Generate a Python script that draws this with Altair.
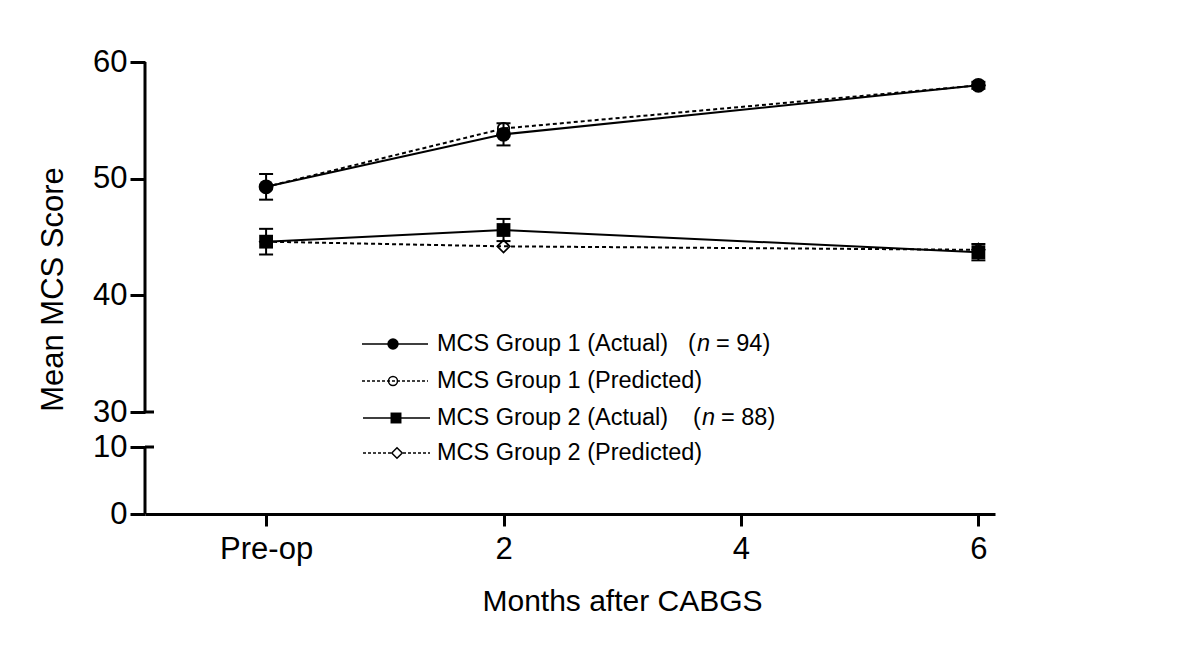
import altair as alt
import pandas as pd

# ---------------- data ----------------
months = [0, 2, 6]
tick_months = [0, 2, 4, 6]
tick_labels = ["Pre-op", "2", "4", "6"]

g1_actual = [49.3, 53.8, 58.0]
g1_actual_err = [1.1, 0.95, 0.3]
g1_pred = [49.3, 54.3, 58.0]
g2_actual = [44.6, 45.6, 43.7]
g2_actual_err = [1.1, 0.95, 0.7]
g2_pred = [44.6, 44.2, 43.9]

series_names = [
    "MCS Group 1 (Actual)",
    "MCS Group 1 (Predicted)",
    "MCS Group 2 (Actual)",
    "MCS Group 2 (Predicted)",
]
group_n = ["94", "", "88", ""]

y_ticks = [0, 10, 30, 40, 50, 60]
y_break_lo = [0, 30]
y_break_hi = [10, 60]
break_caps = [10, 30]

# ---------------- tables ----------------
rows = []
for name, vals, errs in [
    (series_names[0], g1_actual, g1_actual_err),
    (series_names[1], g1_pred, None),
    (series_names[2], g2_actual, g2_actual_err),
    (series_names[3], g2_pred, None),
]:
    for i, m in enumerate(months):
        e = errs[i] if errs else None
        rows.append({
            "month": m, "value": vals[i], "series": name,
            "lo": vals[i] - e if e is not None else None,
            "hi": vals[i] + e if e is not None else None,
        })
df = pd.DataFrame(rows)
err_df = df.dropna(subset=["lo"])

label_expr = " : ".join(
    f"datum.value == {m} ? '{l}'" for m, l in zip(tick_months, tick_labels)
) + " : datum.label"

FONT = "Liberation Sans"
W, H = 850, 452

x_enc = alt.X(
    "month:Q",
    scale=alt.Scale(domain=[-1.02, 6.14], nice=False, zero=False),
    axis=alt.Axis(
        values=tick_months, labelExpr=label_expr, title="Months after CABGS",
        tickSize=12, labelPadding=8, labelFontSize=31, titleFontSize=30,
        titleX=477, titleY=96, titleBaseline="alphabetic", titleAlign="center",
        grid=False,
    ),
)
y_scale = alt.Scale(domain=[0, 10, 30, 60], range=[H, 385, 350, 0], nice=False, zero=False)
y_axis = alt.Axis(
    values=y_ticks, domain=False, title="Mean MCS Score", tickSize=15,
    labelPadding=3, labelFontSize=31, titleFontSize=31, grid=False,
    titleX=-83, titleY=227, titleAngle=-90, titleBaseline="alphabetic", titleAlign="center",
)


def yv(field):
    return alt.Y(f"{field}:Q", scale=y_scale, axis=y_axis)


layers = []

# main series lines
base = alt.Chart(df)
layers.append(
    base.transform_filter(alt.FieldOneOfPredicate(field="series", oneOf=[series_names[0], series_names[2]]))
    .mark_line(color="black", strokeWidth=2)
    .encode(x=x_enc, y=yv("value"), detail="series:N")
)
layers.append(
    base.transform_filter(alt.FieldOneOfPredicate(field="series", oneOf=[series_names[1], series_names[3]]))
    .mark_line(color="black", strokeWidth=2, strokeDash=[4, 3])
    .encode(x=x_enc, y=yv("value"), detail="series:N")
)

# error bars
eb = alt.Chart(err_df)
layers.append(eb.mark_rule(color="black", strokeWidth=2).encode(x=x_enc, y=yv("lo"), y2="hi:Q"))
layers.append(eb.mark_rule(color="black", strokeWidth=2, xOffset=-7, x2Offset=7).encode(x=x_enc, x2="month:Q", y=yv("lo")))
layers.append(eb.mark_rule(color="black", strokeWidth=2, xOffset=-7, x2Offset=7).encode(x=x_enc, x2="month:Q", y=yv("hi")))

# markers
marker_styles = [
    dict(shape="circle", filled=True, size=220, color="black"),
    dict(shape="circle", filled=False, size=130, color="black", strokeWidth=1.8),
    dict(shape="square", filled=True, size=190, color="black"),
    dict(shape="diamond", filled=False, size=155, color="black", strokeWidth=1.8),
]
for name, st in zip(series_names, marker_styles):
    layers.append(
        base.transform_filter(alt.datum.series == name)
        .mark_point(opacity=1, **st)
        .encode(x=x_enc, y=yv("value"))
    )

# broken y axis line
seg_df = pd.DataFrame({"value": y_break_lo, "value2": y_break_hi})
layers.append(
    alt.Chart(seg_df).mark_rule(color="black", strokeWidth=3)
    .encode(x=alt.value(0), y=yv("value"), y2="value2:Q")
)
cap_df = pd.DataFrame({"value": break_caps})
layers.append(
    alt.Chart(cap_df).mark_rule(color="black", strokeWidth=3)
    .encode(x=alt.value(0), x2=alt.value(9), y=yv("value"))
)

# legend
leg_rows_y = [282, 319, 356, 391]
leg_line_x = [(217, 283), (217, 283), (218, 285), (218, 285)]
leg_mark_x = [248, 248, 251, 252]
leg_n_x = [543, 543, 548, 548]
leg_marker_styles = [
    dict(shape="circle", filled=True, size=130, color="black"),
    dict(shape="circle", filled=False, size=80, color="black", strokeWidth=1.5),
    dict(shape="square", filled=True, size=120, color="black"),
    dict(shape="diamond", filled=False, size=110, color="black", fill="white", fillOpacity=1, strokeWidth=1.5),
]
for i, name in enumerate(series_names):
    one = alt.Chart(pd.DataFrame({"label": [name], "n": [group_n[i]]}))
    dash = [3, 2] if i in (1, 3) else [1, 0]
    layers.append(
        one.mark_rule(color="black", strokeWidth=1.6, strokeDash=dash)
        .encode(x=alt.value(leg_line_x[i][0]), x2=alt.value(leg_line_x[i][1]), y=alt.value(leg_rows_y[i]))
    )
    layers.append(
        one.mark_point(opacity=1, **leg_marker_styles[i])
        .encode(x=alt.value(leg_mark_x[i]), y=alt.value(leg_rows_y[i]))
    )
    layers.append(
        one.mark_text(font=FONT, fontSize=23.5, align="left", baseline="middle", color="black")
        .encode(x=alt.value(292), y=alt.value(leg_rows_y[i]), text="label:N")
    )
    if group_n[i]:
        nx = leg_n_x[i]
        layers.append(
            one.mark_text(font=FONT, fontSize=23.5, align="left", baseline="middle", color="black")
            .encode(x=alt.value(nx), y=alt.value(leg_rows_y[i]), text=alt.value("("))
        )
        layers.append(
            one.mark_text(font=FONT, fontSize=23.5, align="left", baseline="middle", color="black", fontStyle="italic")
            .encode(x=alt.value(nx + 9), y=alt.value(leg_rows_y[i]), text=alt.value("n"))
        )
        layers.append(
            one.transform_calculate(ntext="'= ' + datum.n + ')'")
            .mark_text(font=FONT, fontSize=23.5, align="left", baseline="middle", color="black")
            .encode(x=alt.value(nx + 28), y=alt.value(leg_rows_y[i]), text="ntext:N")
        )

chart = (
    alt.layer(*layers)
    .properties(
        width=W, height=H,
        padding={"left": 137, "top": 54, "right": 190, "bottom": 120},
        autosize=alt.AutoSizeParams(type="none"),
        background="white",
    )
    .configure_view(stroke=None)
    .configure_axis(
        domainColor="black", domainWidth=3, tickColor="black", tickWidth=3,
        labelColor="black", titleColor="black", labelFont=FONT, titleFont=FONT,
        titleFontWeight="normal",
    )
)

chart.save("out.html", embed_options={"renderer": "svg", "actions": False})
